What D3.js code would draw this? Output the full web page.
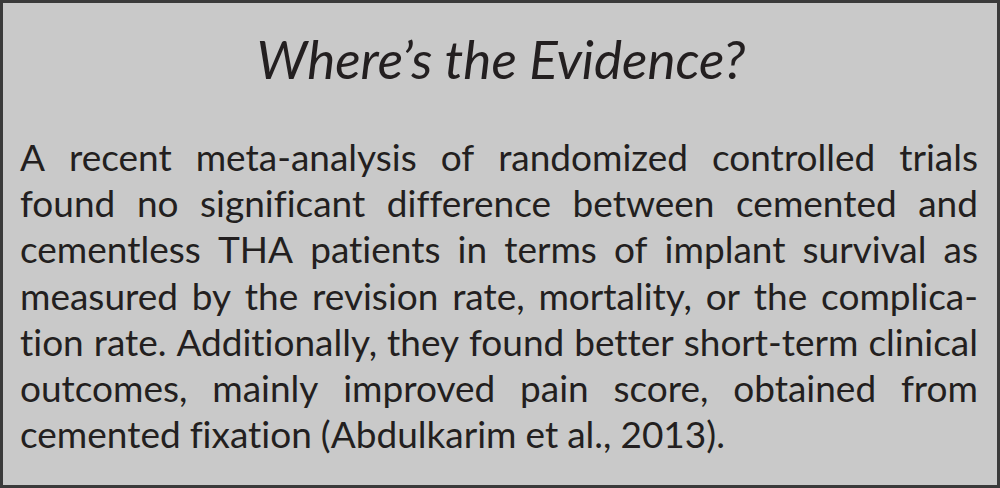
<!DOCTYPE html>
<html><head><meta charset="utf-8">
<script src="https://cdn.jsdelivr.net/npm/d3@7"></script>
<style>body{margin:0}svg{display:block}text{font-variant-ligatures:none}</style>
</head><body>
<svg id="box" width="1000" height="488"></svg>
<script>
const title = "Where\u2019s the Evidence?"
const lines = [
  "A recent meta-analysis of randomized controlled trials",
  "found no significant difference between cemented and",
  "cementless THA patients in terms of implant survival as",
  "measured by the revision rate, mortality, or the complica-",
  "tion rate. Additionally, they found better short-term clinical",
  "outcomes, mainly improved pain score, obtained from",
  "cemented fixation (Abdulkarim et al., 2013)."
]

const svg = d3.select("#box")
const font = "Lato, 'Open Sans', sans-serif"

svg.append("rect").attr("x", 1.5).attr("y", 1.5).attr("width", 997).attr("height", 485)
  .attr("fill", "#c9c9c9").attr("stroke", "#3a3a3a").attr("stroke-width", 3)

svg.append("text").attr("x", 501).attr("y", 79).attr("text-anchor", "middle")
  .attr("font-family", font).attr("font-style", "italic").attr("font-size", 53)
  .attr("fill", "#231f20").text(title)

const left = 20, right = 978
const y = d3.scaleLinear().domain([0, lines.length - 1]).range([171, 448])

lines.forEach((line, i) => {
  const words = line.split(" ")
  const g = svg.append("g")
  const nodes = words.map(w => g.append("text").attr("font-family", font).attr("font-size", 37)
    .attr("fill", "#231f20").attr("y", y(i)).text(w))
  const widths = nodes.map(n => n.node().getComputedTextLength())
  const total = d3.sum(widths)
  const last = i === lines.length - 1
  let gap = last ? 9 : (right - left - total) / (words.length - 1)
  let scale = 1
  if (!last && gap < 7) { gap = 7; scale = (right - left - gap * (words.length - 1)) / total }
  let x = left
  nodes.forEach((n, k) => {
    n.attr("x", x)
    if (scale !== 1) n.attr("textLength", widths[k] * scale).attr("lengthAdjust", "spacingAndGlyphs")
    x += widths[k] * scale + gap
  })
})
</script>
</body></html>
